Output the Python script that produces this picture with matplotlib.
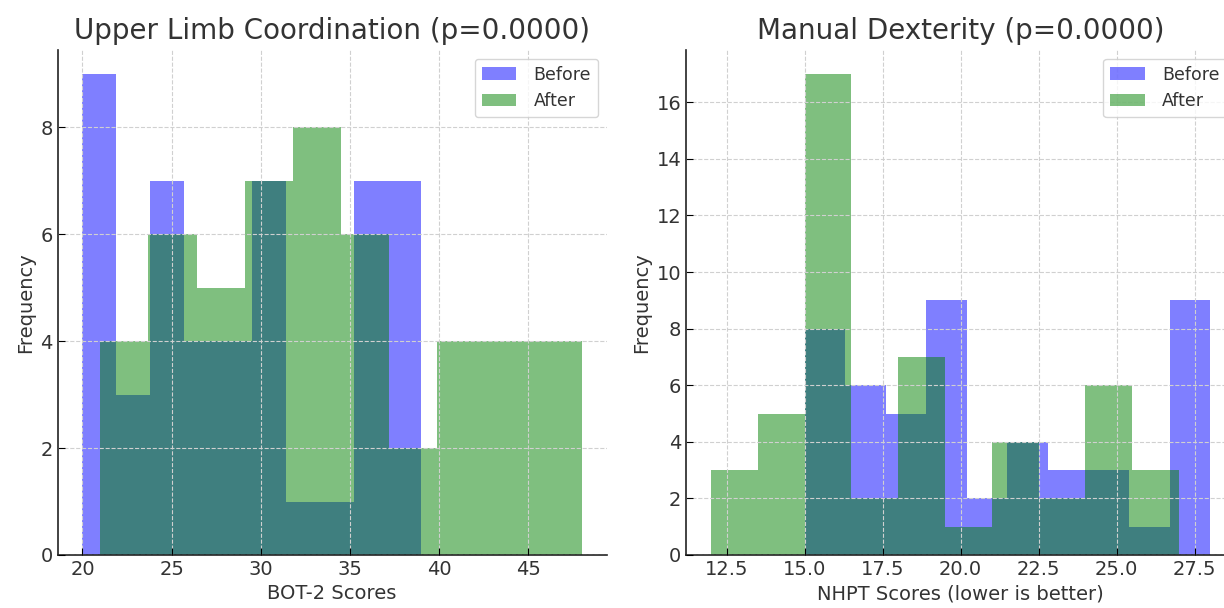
import numpy as np
import matplotlib
matplotlib.use("Agg")
import matplotlib.pyplot as plt
import matplotlib.ticker as ticker

# histogram counts (10 bins each)
bot2_before_counts = [9, 3, 7, 4, 4, 7, 1, 1, 7, 7]
bot2_after_counts = [4, 6, 5, 7, 8, 6, 2, 4, 4, 4]
bot2_before_range = (20, 39)
bot2_after_range = (21, 48)

nhpt_before_counts = [8, 6, 5, 9, 2, 4, 3, 3, 1, 9]
nhpt_after_counts = [3, 5, 17, 2, 7, 1, 4, 2, 6, 3]
nhpt_before_range = (15, 28)
nhpt_after_range = (12, 27)

panels = [
    ("Upper Limb Coordination (p=0.0000)", "BOT-2 Scores",
     bot2_before_counts, bot2_before_range, bot2_after_counts, bot2_after_range, 5),
    ("Manual Dexterity (p=0.0000)", "NHPT Scores (lower is better)",
     nhpt_before_counts, nhpt_before_range, nhpt_after_counts, nhpt_after_range, 2.5),
]

text_color = "#333333"
plt.rcParams['font.family'] = ['DejaVu Sans']

fig = plt.figure(figsize=(12.24, 6.08), dpi=100)
ax_positions = [[0.047, 0.0872, 0.4487, 0.8306], [0.5605, 0.0872, 0.4487, 0.8306]]

for pos, (title, xlabel, b_counts, b_range, a_counts, a_range, xstep) in zip(ax_positions, panels):
    ax = fig.add_axes(pos)
    b_edges = np.linspace(b_range[0], b_range[1], len(b_counts) + 1)
    a_edges = np.linspace(a_range[0], a_range[1], len(a_counts) + 1)
    ax.hist(b_edges[:-1], bins=b_edges, weights=b_counts, color='blue', alpha=0.5, label='Before')
    ax.hist(a_edges[:-1], bins=a_edges, weights=a_counts, color='green', alpha=0.5, label='After')

    ax.set_title(title, fontsize=20, color=text_color, pad=8)
    ax.set_xlabel(xlabel, fontsize=14, color=text_color)
    ax.set_ylabel("Frequency", fontsize=14, color=text_color)
    ax.xaxis.set_major_locator(ticker.MultipleLocator(xstep))

    # grid sits on top of the bars, like the original
    ax.set_axisbelow(False)
    ax.grid(True, linestyle='--', color='#d0d0d0', linewidth=0.8)
    for side in ['top', 'right']:
        ax.spines[side].set_visible(False)
    for side in ['left', 'bottom']:
        ax.spines[side].set_color('#222222')
        ax.spines[side].set_linewidth(1.2)
    ax.tick_params(direction='in', length=5, labelsize=14, labelcolor=text_color)

    leg = ax.legend(loc='upper right', fontsize=12.5, handletextpad=1.0)
    for t in leg.get_texts():
        t.set_color(text_color)

fig.savefig("out.png", dpi=100)
